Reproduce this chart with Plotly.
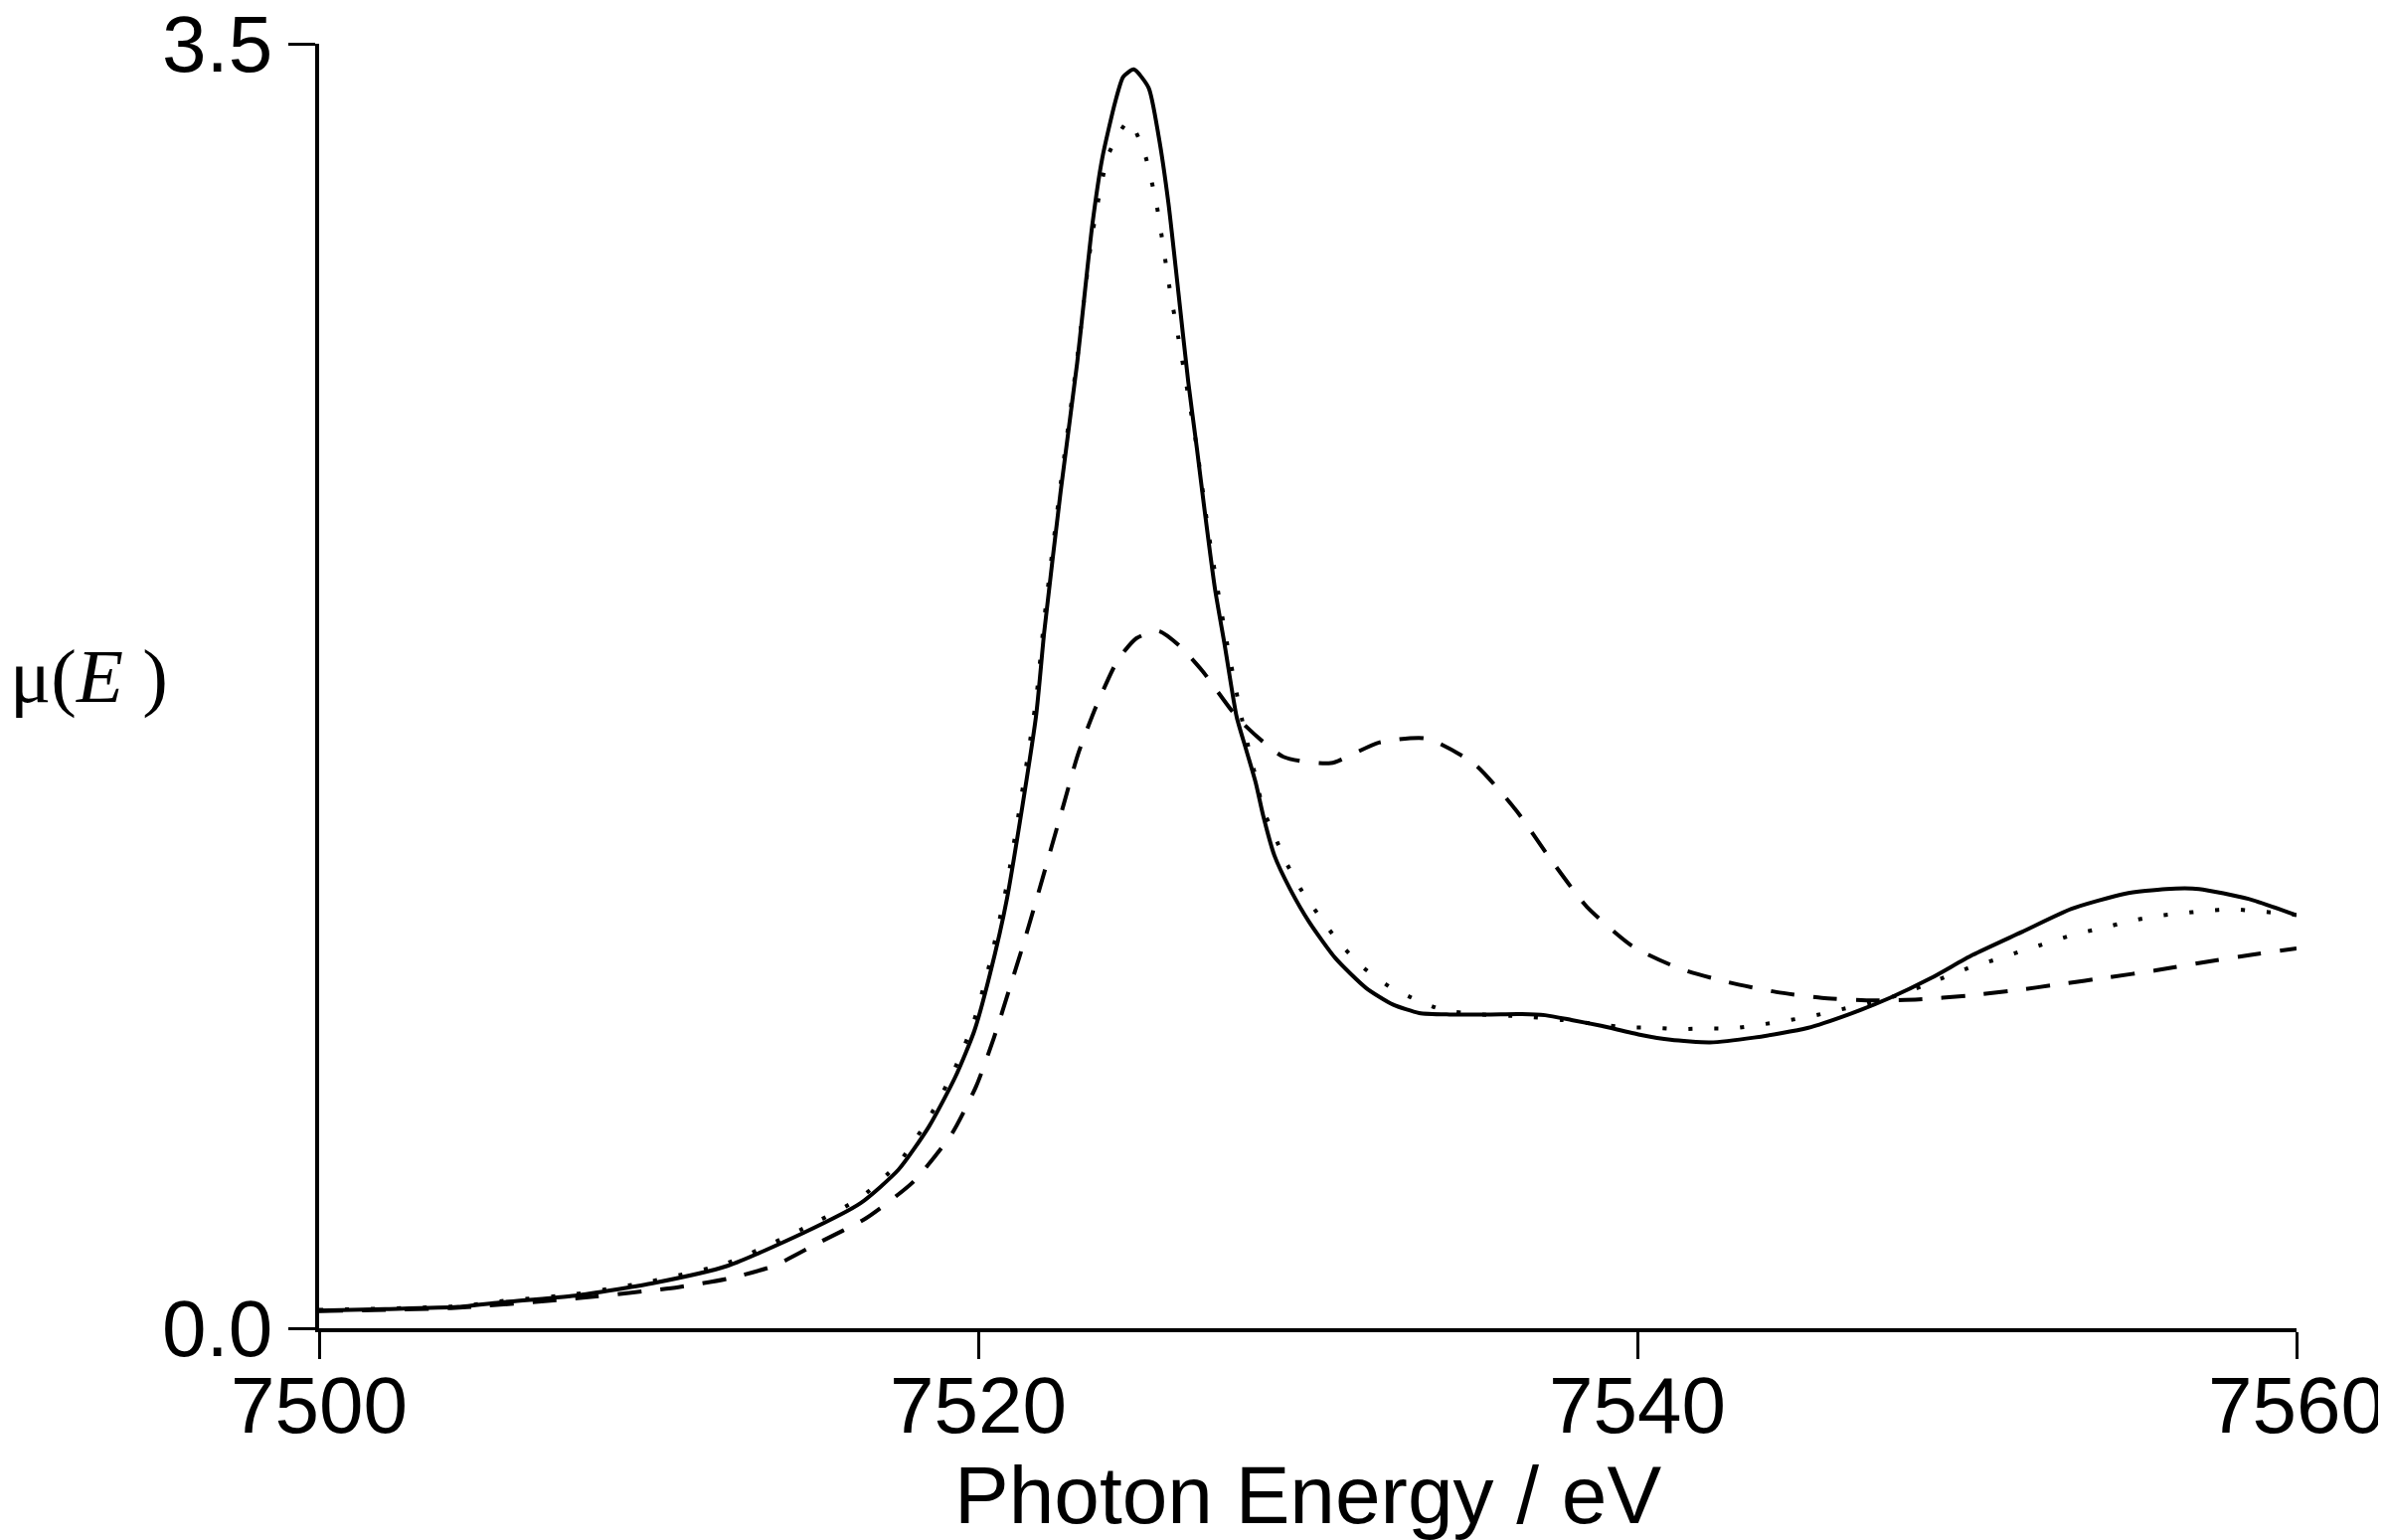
import plotly.graph_objects as go

# photon energy (eV) and mu(E), one pair of lists per curve
solid_e = [7500, 7502, 7504.22, 7505.46, 7507.77, 7510.08, 7512.39, 7514.7, 7516.43, 7517.58,
           7518.5, 7519.3, 7519.88, 7520.35, 7520.87, 7521.75, 7522.0, 7522.5, 7523.0, 7523.46,
           7523.76, 7524.16, 7524.4, 7524.72, 7525.17, 7525.47, 7525.77, 7526.07, 7526.37, 7526.63,
           7526.88, 7527.18, 7527.48, 7527.84, 7528.13, 7528.42, 7528.65, 7528.99, 7529.46, 7530.04,
           7530.84, 7531.77, 7532.58, 7533.38, 7534.3, 7535.5, 7536.5, 7537.2, 7538.0, 7538.9,
           7540.07, 7541.0, 7542.2, 7543.54, 7545.16, 7546.41, 7547.66, 7548.91, 7550.17, 7551.67,
           7553.17, 7554.79, 7556.04, 7557.04, 7558.54, 7560]
solid_mu = [0.048, 0.052, 0.058, 0.070, 0.089, 0.122, 0.17, 0.26, 0.341, 0.432,
            0.549, 0.684, 0.81, 0.963, 1.17, 1.666, 1.896, 2.28, 2.63, 3.006,
            3.187, 3.343, 3.41, 3.43, 3.38, 3.25, 3.066, 2.825, 2.58, 2.40,
            2.22, 2.016, 1.86, 1.666, 1.576, 1.486, 1.395, 1.287, 1.197, 1.107,
            1.008, 0.927, 0.882, 0.859, 0.855, 0.855, 0.856, 0.853, 0.840, 0.824,
            0.80, 0.786, 0.779, 0.792, 0.818, 0.855, 0.90, 0.954, 1.017, 1.08,
            1.143, 1.184, 1.197, 1.197, 1.17, 1.125]

dotted_e = [7500, 7504.22, 7505.46, 7507.77, 7510.08, 7512.39, 7514.7, 7516.43, 7517.58, 7518.5,
            7519.3, 7519.88, 7520.35, 7520.87, 7521.75, 7522.0, 7522.5, 7523.0, 7523.46, 7523.96,
            7524.57, 7525.05, 7525.42, 7525.79, 7526.07, 7526.35, 7526.63, 7527.0, 7527.5, 7528.0,
            7528.42, 7528.65, 7529.0, 7529.34, 7529.78, 7530.32, 7530.93, 7531.68, 7532.49, 7533.29,
            7534.07, 7535.2, 7536.5, 7537.7, 7538.85, 7539.67, 7540.5, 7541.3, 7542.05, 7542.85,
            7543.64, 7544.44, 7545.27, 7546.04, 7547.0, 7548.0, 7549.0, 7550.03, 7550.85, 7551.67,
            7552.44, 7553.25, 7554.07, 7554.85, 7555.64, 7556.44, 7557.22, 7558.04, 7558.82, 7559.67,
            7560]
dotted_mu = [0.05, 0.06, 0.073, 0.093, 0.128, 0.178, 0.272, 0.356, 0.45, 0.572,
             0.71, 0.84, 0.995, 1.21, 1.71, 1.93, 2.30, 2.64, 2.98, 3.20,
             3.29, 3.20, 3.057, 2.843, 2.70, 2.553, 2.40, 2.16, 1.89, 1.66,
             1.50, 1.413, 1.34, 1.27, 1.197, 1.127, 1.053, 0.983, 0.93, 0.895,
             0.868, 0.855, 0.850, 0.840, 0.828, 0.82, 0.819, 0.815, 0.817, 0.817,
             0.826, 0.837, 0.85, 0.866, 0.885, 0.91, 0.945, 0.981, 1.004, 1.028,
             1.05, 1.073, 1.09, 1.107, 1.122, 1.13, 1.137, 1.142, 1.136, 1.13,
             1.126]

dashed_e = [7500, 7504, 7508, 7510.9, 7512.4, 7513.8, 7515.16, 7516.6, 7518.04, 7519.2,
            7519.94, 7520.47, 7520.93, 7521.33, 7521.74, 7522.6, 7523.03, 7523.57, 7524.23, 7524.8,
            7525.47, 7526.1, 7526.81, 7527.9, 7529.26, 7530.7, 7532.16, 7533.6, 7535.05, 7536.33,
            7537.35, 7538.46, 7539.85, 7541.31, 7542.75, 7544.22, 7545.6, 7547.16, 7548.54, 7549.98,
            7551.42, 7552.86, 7554.29, 7555.73, 7557.17, 7558.61, 7560]
dashed_mu = [0.047, 0.055, 0.083, 0.112, 0.135, 0.17, 0.233, 0.30, 0.40, 0.53,
             0.66, 0.79, 0.92, 1.035, 1.16, 1.43, 1.565, 1.693, 1.82, 1.88,
             1.90, 1.86, 1.79, 1.66, 1.557, 1.54, 1.596, 1.607, 1.538, 1.41,
             1.28, 1.149, 1.041, 0.979, 0.943, 0.916, 0.90, 0.893, 0.896, 0.906,
             0.92, 0.938, 0.956, 0.975, 0.997, 1.017, 1.035]

x_ticks = [7500, 7520, 7540, 7560]
y_ticks = [0, 3.5]
y_tick_text = ["0.0", "3.5"]

fig = go.Figure()
fig.add_trace(go.Scatter(x=dashed_e, y=dashed_mu, mode="lines",
                         line=dict(color="black", width=4, dash="24px,19px", shape="spline", smoothing=0.6)))
fig.add_trace(go.Scatter(x=dotted_e, y=dotted_mu, mode="lines",
                         line=dict(color="black", width=4, dash="4px,22px", shape="spline", smoothing=0.6)))
fig.add_trace(go.Scatter(x=solid_e, y=solid_mu, mode="lines",
                         line=dict(color="black", width=4, shape="spline", smoothing=0.6)))

tick_font = dict(family="Liberation Sans, Arial", size=80, color="black")

fig.update_layout(
    width=2400, height=1549,
    margin=dict(l=313, r=98, t=36, b=221),
    paper_bgcolor="white", plot_bgcolor="white",
    showlegend=False,
    xaxis=dict(range=[7500, 7560], tickvals=x_ticks, ticks="outside", ticklen=27, tickwidth=3,
               tickcolor="black", showline=True, linecolor="black", linewidth=3.5,
               showgrid=False, zeroline=False, tickfont=tick_font, automargin=False,
               ticklabelstandoff=-22, ticklabeloverflow="allow"),
    yaxis=dict(range=[0, 3.5], tickvals=y_ticks, ticktext=y_tick_text, ticks="outside", ticklen=27,
               tickwidth=3, tickcolor="black", showline=True, linecolor="black", linewidth=3.5,
               showgrid=False, zeroline=False, tickfont=tick_font, automargin=False,
               ticklabeloverflow="allow"),
)

fig.add_annotation(text="Photon Energy / eV", xref="paper", yref="paper", x=0.5, y=-0.1297,
                   xanchor="center", yanchor="middle", showarrow=False,
                   font=dict(family="Liberation Sans, Arial", size=82, color="black"))
fig.add_annotation(text="μ(<i>E</i> )", xref="paper", yref="paper", x=-0.1573, y=0.508,
                   xanchor="left", yanchor="middle", showarrow=False,
                   font=dict(family="Liberation Serif, Times New Roman", size=77, color="black"))

fig.write_html("out.html")
